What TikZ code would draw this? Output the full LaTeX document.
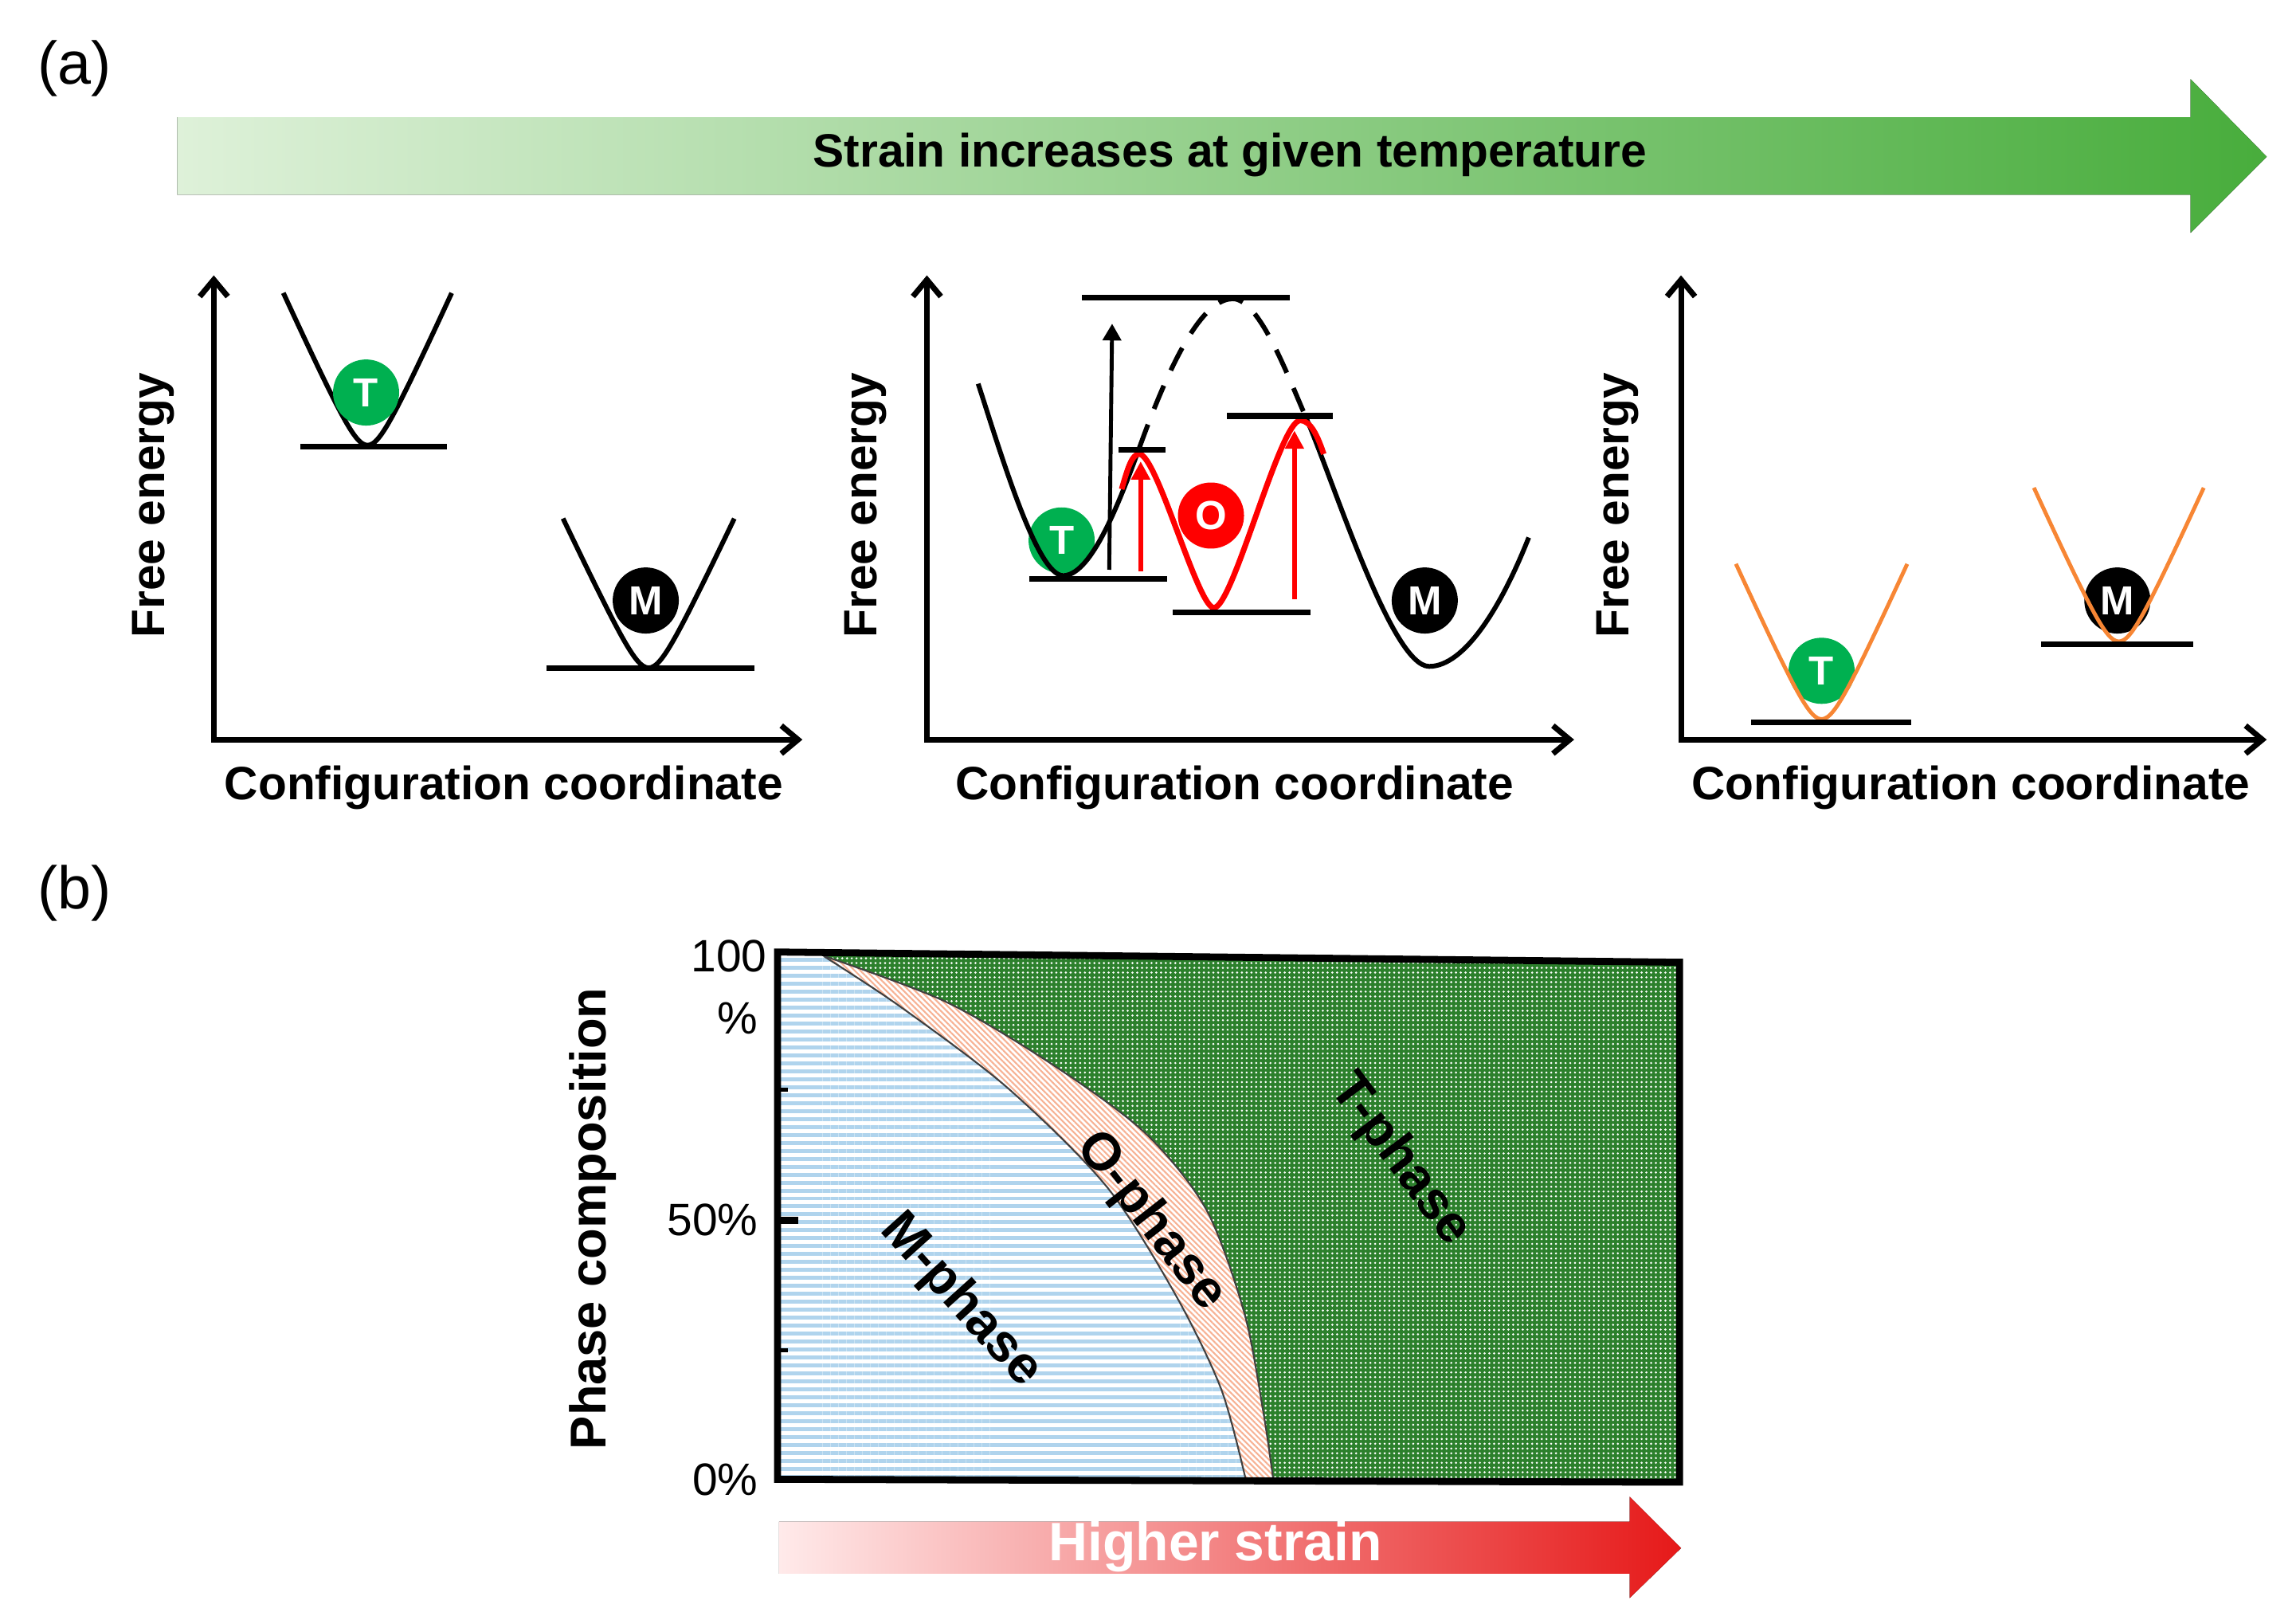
\documentclass[tikz,border=0pt]{standalone}
\usepackage{fontspec}
\setmainfont{Liberation Sans}
\usetikzlibrary{arrows.meta,patterns.meta}
\definecolor{tgreen}{RGB}{0,176,80}
\definecolor{orangec}{RGB}{247,134,52}
\definecolor{glight}{RGB}{222,241,217}
\definecolor{gdark}{RGB}{72,173,60}
\definecolor{rlight}{RGB}{255,234,234}
\definecolor{rdark}{RGB}{230,25,25}
\definecolor{mblue}{RGB}{176,212,237}
\definecolor{opeach}{RGB}{247,178,148}
\definecolor{tgdark}{RGB}{44,128,44}
\newcommand\wellcurve[5]{\draw[#5] plot[domain=-1:1,samples=61,smooth] ({#1+#3*\x},{#2-#4*(sqrt((\x)*(\x)+0.04)-0.2)/0.8198});}
\begin{document}
\begin{tikzpicture}[x=0.01838cm,y=-0.01838cm,
  lbl/.style={font=\fontsize{16.7}{20}\selectfont\bfseries, inner sep=0pt},
  ticklbl/.style={font=\fontsize{16.2}{20}\selectfont, inner sep=0pt, anchor=east},
  phaselbl/.style={font=\fontsize{18.8}{20}\selectfont\bfseries, inner sep=0pt},
  axes/.style={line width=2pt, line join=miter, {Straight Barb[length=6pt,width=10pt]}-{Straight Barb[length=6pt,width=10pt]}},
  ball/.style={circle, inner sep=0pt, minimum size=0.83cm, text=white, font=\fontsize{14.5}{14.5}\selectfont\bfseries},
  level/.style={line width=2pt},
  curve/.style={line width=1.7pt},
  ocurve/.style={line width=1.4pt, orangec},
  redc/.style={line width=2pt, red},
  redarrow/.style={line width=1.6pt, red, -{Triangle[length=6.5pt,width=6.5pt]}},
  blkarrow/.style={line width=1.4pt, black, -{Triangle[length=6pt,width=6.5pt]}},
  edge/.style={line width=0.6pt, black!75}]
\useasboundingbox (0,0) rectangle (1568,1106);

% panel labels
\node[font=\fontsize{21.5}{22}\selectfont, inner sep=0pt] (la) at (51,47) {(a)};
\node[font=\fontsize{21.5}{22}\selectfont, inner sep=0pt] (lb) at (51,610) {(b)};

% top arrow
\fill[left color=glight, right color=gdark] (121,80) -- (1496,80) -- (1496,54) -- (1548,107) -- (1496,159) -- (1496,133) -- (121,133) -- cycle;
\node[lbl] (strain) at (840,106) {Strain increases at given temperature};

% ---------- panel 1 ----------
\coordinate (y1) at (146,188); \coordinate (o1) at (146,505); \coordinate (x1) at (548,505);
\draw[axes] (y1) -- (o1) -- (x1);
\wellcurve{251}{304}{57.5}{104}{curve}
\draw[level] (205,305) -- (305,305);
\wellcurve{443}{456}{58.5}{102}{curve}
\draw[level] (373,456) -- (515,456);
\node[ball, fill=tgreen] (T1) at (250,268) {T};
\node[ball, fill=black] (M1) at (441,410) {M};
\node[lbl, rotate=90] (fe1) at (105,345) {Free energy};
\node[lbl] (cc1) at (344,538) {Configuration coordinate};

% ---------- panel 2 ----------
\coordinate (y2) at (633,188); \coordinate (o2) at (633,505); \coordinate (x2) at (1075,505);
\draw[axes] (y2) -- (o2) -- (x2);
\node[ball, fill=tgreen] (T2) at (725,369) {T};
\node[ball, fill=red] (O2) at (827,352) {O};
\node[ball, fill=black] (M2) at (973,410) {M};
\draw[curve] (668,262) .. controls (683,308) and (708,393) .. (726,393) .. controls (744,393) and (762,350) .. (778,306);
\draw[curve, dash pattern=on 9pt off 6pt] (778,306) .. controls (806,228) and (826,204) .. (842,204) .. controls (860,204) and (880,258) .. (891,283);
\draw[curve] (891,283) .. controls (910,326) and (950,455) .. (976,455) .. controls (1000,455) and (1025,415) .. (1044,367);
\draw[redc] (766,334) .. controls (770,320) and (773,310) .. (778,310) .. controls (790,310) and (818,415) .. (829,415) .. controls (842,415) and (874,287) .. (888,287) .. controls (895,287) and (900,298) .. (904,310);
\draw[level] (739,203) -- (881,203);
\draw[level] (764,307) -- (796,307);
\draw[level] (838,284) -- (910,284);
\draw[level] (703,395) -- (797,395);
\draw[level] (801,418) -- (895,418);
\coordinate (ba0) at (757.5,389); \coordinate (ba1) at (759.5,221);
\draw[blkarrow] (ba0) -- (ba1);
\coordinate (ra0) at (779,390); \coordinate (ra1) at (779,315);
\draw[redarrow] (ra0) -- (ra1);
\coordinate (rb0) at (884,409); \coordinate (rb1) at (884,294);
\draw[redarrow] (rb0) -- (rb1);
\node[lbl, rotate=90] (fe2) at (591,345) {Free energy};
\node[lbl] (cc2) at (843,538) {Configuration coordinate};

% ---------- panel 3 ----------
\coordinate (y3) at (1148,188); \coordinate (o3) at (1148,505); \coordinate (x3) at (1548,505);
\draw[axes] (y3) -- (o3) -- (x3);
\node[ball, fill=tgreen] (T3) at (1244,458) {T};
\node[ball, fill=black] (M3) at (1446,410) {M};
\wellcurve{1244}{491}{58.5}{106}{ocurve}
\wellcurve{1447}{438}{58}{105}{ocurve}
\draw[level] (1196,493) -- (1305,493);
\draw[level] (1394,440) -- (1498,440);
\node[lbl, rotate=90] (fe3) at (1105,345) {Free energy};
\node[lbl] (cc3) at (1346,538) {Configuration coordinate};

% ---------- panel b ----------
% M region
\fill[white] (531,651) -- plot[smooth] coordinates {(562.5,652.8) (614.7,687.2) (687.8,742.5) (755.7,810.1) (802.7,883.9) (834,948.5) (850.7,1010)} -- (531,1010) -- cycle;
\path[pattern={Lines[angle=0,distance=2.84pt,line width=1.42pt]}, pattern color=mblue] (531,651) -- plot[smooth] coordinates {(562.5,652.8) (614.7,687.2) (687.8,742.5) (755.7,810.1) (802.7,883.9) (834,948.5) (850.7,1010)} -- (531,1010) -- cycle;
% O region
\fill[white] plot[smooth] coordinates {(563,652.8) (646,684) (719,727) (781.8,773.3) (823.6,825.5) (849.7,896.2) (862.7,963.8) (869.5,1010)} -- plot[smooth] coordinates {(850.7,1010) (834,948.5) (802.7,883.9) (755.7,810.1) (687.8,742.5) (614.7,687.2) (562.5,652.8)} -- cycle;
\path[pattern={Lines[angle=-45,distance=1.45pt,line width=0.6pt]}, pattern color=opeach] plot[smooth] coordinates {(563,652.8) (646,684) (719,727) (781.8,773.3) (823.6,825.5) (849.7,896.2) (862.7,963.8) (869.5,1010)} -- plot[smooth] coordinates {(850.7,1010) (834,948.5) (802.7,883.9) (755.7,810.1) (687.8,742.5) (614.7,687.2) (562.5,652.8)} -- cycle;
% T region
\fill[tgdark] (563,650.5) -- (1147,657) -- (1147,1012) -- (869.5,1011) -- plot[smooth] coordinates {(869.5,1010) (862.7,963.8) (849.7,896.2) (823.6,825.5) (781.8,773.3) (719,727) (646,684) (563,652.8)} -- cycle;
\path[pattern={Dots[distance=1.7pt,radius=0.42pt]}, pattern color=white] (563,650.5) -- (1147,657) -- (1147,1012) -- (869.5,1011) -- plot[smooth] coordinates {(869.5,1010) (862.7,963.8) (849.7,896.2) (823.6,825.5) (781.8,773.3) (719,727) (646,684) (563,652.8)} -- cycle;
% boundaries
\draw[edge] plot[smooth] coordinates {(562.5,652.8) (614.7,687.2) (687.8,742.5) (755.7,810.1) (802.7,883.9) (834,948.5) (850.7,1010)};
\draw[edge] plot[smooth] coordinates {(563,652.8) (646,684) (719,727) (781.8,773.3) (823.6,825.5) (849.7,896.2) (862.7,963.8) (869.5,1010)};
% box
\coordinate (bTL) at (531,650); \coordinate (bTR) at (1147,657); \coordinate (bBR) at (1147,1012); \coordinate (bBL) at (531,1010);
\draw[line width=2.5pt, line join=miter] (bTL) -- (bTR) -- (bBR) -- (bBL) -- cycle;
% ticks
\draw[line width=1.3pt] (531,744) -- (538,744);
\draw[line width=2.6pt] (531,833) -- (545,833);
\draw[line width=1.3pt] (531,922) -- (538,922);
\node[ticklbl] (t100) at (524,653) {100};
\node[ticklbl] (tpct) at (518,695) {\%};
\node[ticklbl] (t50) at (518,833) {50\%};
\node[ticklbl] (t0) at (518,1010) {0\%};
\node[lbl, rotate=90, font=\fontsize{18}{20}\selectfont\bfseries] (pc) at (405,832) {Phase composition};
\node[phaselbl, rotate=-48] (mph) at (656,888) {M-phase};
\node[phaselbl, rotate=-52] (oph) at (786,834) {O-phase};
\node[phaselbl, rotate=-53] (tph) at (956,792) {T-phase};
% higher strain arrow
\fill[left color=rlight, right color=rdark] (532,1039) -- (1113,1039) -- (1113,1022) -- (1148,1057) -- (1113,1091) -- (1113,1074.5) -- (532,1074.5) -- cycle;
\node[font=\fontsize{19.3}{20}\selectfont\bfseries, text=white, inner sep=0pt] (hs) at (830,1056) {Higher strain};
\end{tikzpicture}
\end{document}
